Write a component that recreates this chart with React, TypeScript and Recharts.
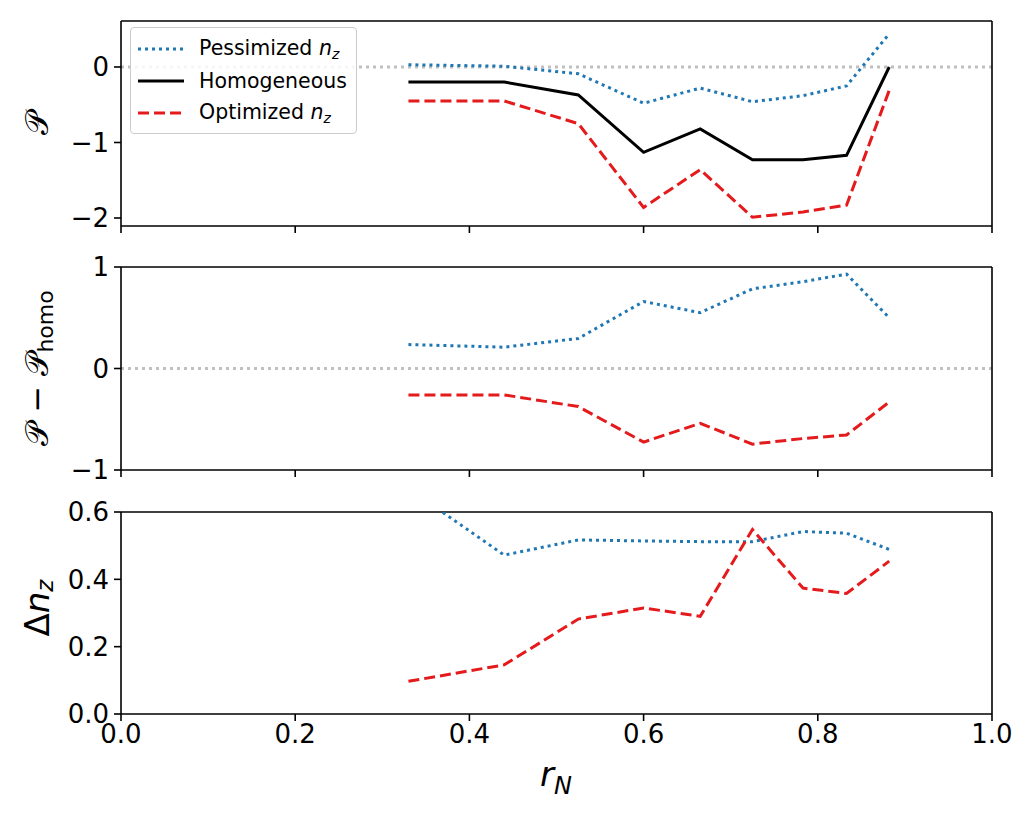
import React from 'react';
import { LineChart, Line, XAxis, YAxis, ReferenceLine, Legend } from 'recharts';

// sample radii (r_N)
const rN = [0.33, 0.44, 0.525, 0.6, 0.665, 0.725, 0.783, 0.833, 0.882];

// top panel: P
const pPess = [0.03, 0.01, -0.09, -0.48, -0.28, -0.46, -0.38, -0.25, 0.44];
const pHomo = [-0.2, -0.2, -0.37, -1.13, -0.82, -1.23, -1.23, -1.17, 0.0];
const pOpt = [-0.45, -0.45, -0.75, -1.86, -1.36, -1.99, -1.92, -1.83, -0.31];

// middle panel: P - P_homo
const dPess = [0.236, 0.21, 0.296, 0.66, 0.55, 0.785, 0.855, 0.93, 0.5];
const dOpt = [-0.26, -0.26, -0.375, -0.725, -0.54, -0.745, -0.69, -0.655, -0.33];

// bottom panel: delta n_z
const nPess = [0.67, 0.472, 0.517, 0.514, 0.512, 0.512, 0.542, 0.537, 0.489];
const nOpt = [0.097, 0.146, 0.282, 0.315, 0.29, 0.548, 0.374, 0.358, 0.454];

const xTicks = [0, 0.2, 0.4, 0.6, 0.8, 1.0];
const topTicks = [-2, -1, 0];
const midTicks = [-1, 0, 1];
const botTicks = [0, 0.2, 0.4, 0.6];

const topDomain = [-2.106, 0.609];
const midDomain = [-1, 1];
const botDomain = [0, 0.6];

const topData = rN.map((r, i) => ({ r, pess: pPess[i], homo: pHomo[i], opt: pOpt[i] }));
const midData = rN.map((r, i) => ({ r, pess: dPess[i], opt: dOpt[i] }));
const botData = rN.map((r, i) => ({ r, pess: nPess[i], opt: nOpt[i] }));

const FONT = '"DejaVu Sans", sans-serif';
const BLUE = '#1f77b4';
const RED = '#e41a1c';
const W = 1031;

const minus = (v: number) => String(v).replace('-', '\u2212');
const oneDec = (v: number) => v.toFixed(1);

const tickStyle = { fill: '#000', fontSize: 26, fontFamily: FONT };
const axisLine = { stroke: '#000', strokeWidth: 1.6 };

function YLabel({ cx, cy, kind }: { cx: number; cy: number; kind: string }) {
  let body: React.ReactNode = null;
  if (kind === 'p') body = <tspan>𝒫</tspan>;
  if (kind === 'dp')
    body = (
      <>
        <tspan>𝒫</tspan>
        <tspan> − </tspan>
        <tspan>𝒫</tspan>
        <tspan fontSize={22} dy={8}>homo</tspan>
      </>
    );
  if (kind === 'dn')
    body = (
      <>
        <tspan>Δ</tspan>
        <tspan fontStyle="italic">n</tspan>
        <tspan fontStyle="italic" fontSize={23} dy={8}>z</tspan>
      </>
    );
  return (
    <text
      x={cx}
      y={cy}
      transform={`rotate(-90 ${cx} ${cy})`}
      textAnchor="middle"
      dominantBaseline="central"
      fontFamily={FONT}
      fontSize={kind === 'dn' ? 34 : 32}
      fill="#000"
    >
      {body}
    </text>
  );
}

function XLabel() {
  return (
    <text x={556} y={296} textAnchor="middle" fontFamily={FONT} fontSize={34} fill="#000">
      <tspan fontStyle="italic">r</tspan>
      <tspan fontStyle="italic" fontSize={24} dy={8}>N</tspan>
    </text>
  );
}

function Swatch({ color, dash, width = 3 }: { color: string; dash?: string; width?: number }) {
  return (
    <svg width={46} height={10} style={{ display: 'block' }}>
      <line x1={0} y1={5} x2={46} y2={5} stroke={color} strokeWidth={width} strokeDasharray={dash} />
    </svg>
  );
}

function LegendBox() {
  const row = { display: 'flex', alignItems: 'center', height: 32 } as React.CSSProperties;
  const txt = { marginLeft: 15, fontSize: 20.5, fontFamily: FONT, color: '#000', whiteSpace: 'nowrap' } as React.CSSProperties;
  const nz = (
    <>
      <i>n</i>
      <sub style={{ fontSize: 14, fontStyle: 'italic', verticalAlign: -4 }}>z</sub>
    </>
  );
  return (
    <div
      style={{
        border: '1px solid #ccc',
        borderRadius: 4,
        background: 'rgba(255,255,255,0.85)',
        padding: '5px 8px 5px 7px',
        boxSizing: 'border-box',
        width: 227,
        height: 107,
      }}
    >
      <div style={row}>
        <Swatch color={BLUE} dash="3 4" />
        <span style={txt}>Pessimized {nz}</span>
      </div>
      <div style={row}>
        <Swatch color="#000" />
        <span style={txt}>Homogeneous</span>
      </div>
      <div style={row}>
        <Swatch color={RED} dash="11 5" />
        <span style={txt}>Optimized {nz}</span>
      </div>
    </div>
  );
}

export default function App() {
  const common = { width: W, layout: 'horizontal' as const };
  return (
    <div style={{ position: 'absolute', left: 0, top: 0, width: W, height: 818, background: '#fff' }}>
      {/* top panel */}
      <div style={{ position: 'absolute', left: 0, top: 0 }}>
        <LineChart {...common} height={246} data={topData} margin={{ top: 21, right: 39, bottom: 0, left: 0 }}>
          <XAxis dataKey="r" type="number" domain={[0, 1]} ticks={xTicks} height={20} tickSize={7}
            tickFormatter={() => ''} axisLine={axisLine} tickLine={axisLine} />
          <YAxis type="number" domain={topDomain} ticks={topTicks} width={121} tickSize={7} tickMargin={5}
            tick={tickStyle} tickFormatter={minus} axisLine={axisLine} tickLine={axisLine}
            label={<YLabel cx={37} cy={123} kind="p" />} />
          <ReferenceLine y={0} stroke="#c0c0c0" strokeWidth={3} strokeDasharray="3 4" />
          <ReferenceLine y={topDomain[1]} stroke="#000" strokeWidth={1.6} />
          <ReferenceLine x={1} stroke="#000" strokeWidth={1.6} />
          <Line dataKey="pess" stroke={BLUE} strokeWidth={3} strokeDasharray="3 4" dot={false} isAnimationActive={false} />
          <Line dataKey="homo" stroke="#000" strokeWidth={3} dot={false} isAnimationActive={false} />
          <Line dataKey="opt" stroke={RED} strokeWidth={3} strokeDasharray="11 5" dot={false} isAnimationActive={false} />
          <Legend layout="vertical" align="center" verticalAlign="middle" content={() => <LegendBox />}
            wrapperStyle={{ left: 130, top: 27, width: 227, height: 107 }} />
        </LineChart>
      </div>

      {/* middle panel */}
      <div style={{ position: 'absolute', left: 0, top: 240 }}>
        <LineChart {...common} height={250} data={midData} margin={{ top: 27, right: 39, bottom: 0, left: 0 }}>
          <XAxis dataKey="r" type="number" domain={[0, 1]} ticks={xTicks} height={20} tickSize={7}
            tickFormatter={() => ''} axisLine={axisLine} tickLine={axisLine} />
          <YAxis type="number" domain={midDomain} ticks={midTicks} width={121} tickSize={7} tickMargin={5}
            tick={tickStyle} tickFormatter={minus} axisLine={axisLine} tickLine={axisLine}
            label={<YLabel cx={37} cy={128} kind="dp" />} />
          <ReferenceLine y={0} stroke="#c0c0c0" strokeWidth={3} strokeDasharray="3 4" />
          <ReferenceLine y={midDomain[1]} stroke="#000" strokeWidth={1.6} />
          <ReferenceLine x={1} stroke="#000" strokeWidth={1.6} />
          <Line dataKey="pess" stroke={BLUE} strokeWidth={3} strokeDasharray="3 4" dot={false} isAnimationActive={false} />
          <Line dataKey="opt" stroke={RED} strokeWidth={3} strokeDasharray="11 5" dot={false} isAnimationActive={false} />
        </LineChart>
      </div>

      {/* bottom panel */}
      <div style={{ position: 'absolute', left: 0, top: 490 }}>
        <LineChart {...common} height={328} data={botData} margin={{ top: 22, right: 39, bottom: 0, left: 0 }}>
          <XAxis dataKey="r" type="number" domain={[0, 1]} ticks={xTicks} height={104} tickSize={7} tickMargin={4}
            tick={tickStyle} tickFormatter={oneDec} axisLine={axisLine} tickLine={axisLine}
            label={<XLabel />} />
          <YAxis type="number" domain={botDomain} ticks={botTicks} allowDataOverflow width={121} tickSize={7} tickMargin={5}
            tick={tickStyle} tickFormatter={oneDec} axisLine={axisLine} tickLine={axisLine}
            label={<YLabel cx={37} cy={118} kind="dn" />} />
          <ReferenceLine y={botDomain[1]} stroke="#000" strokeWidth={1.6} />
          <ReferenceLine x={1} stroke="#000" strokeWidth={1.6} />
          <Line dataKey="pess" stroke={BLUE} strokeWidth={3} strokeDasharray="3 4" dot={false} isAnimationActive={false} />
          <Line dataKey="opt" stroke={RED} strokeWidth={3} strokeDasharray="11 5" dot={false} isAnimationActive={false} />
        </LineChart>
      </div>
    </div>
  );
}
